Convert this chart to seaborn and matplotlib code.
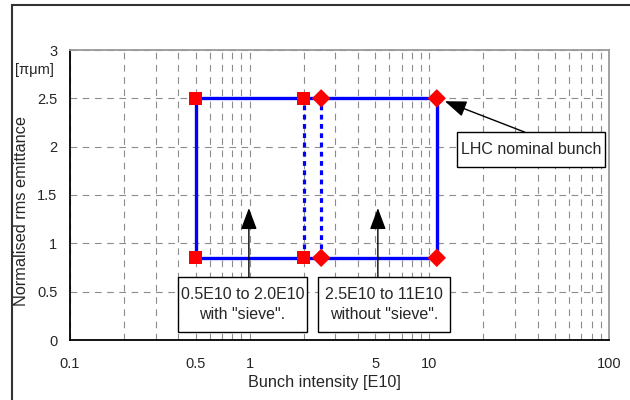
import matplotlib
matplotlib.use("Agg")
import matplotlib.pyplot as plt
import matplotlib.ticker as mticker
from matplotlib.patches import Rectangle
import seaborn as sns
import pandas as pd

# ---- data ----
sieve_x = [0.5, 2.0]          # with "sieve"
nosieve_x = [2.5, 11.0]       # without "sieve"
emit_low = 0.85
emit_high = 2.5
x_ticks = [0.1, 0.5, 1, 5, 10, 100]
x_tick_labels = ["0.1", "0.5", "1", "5", "10", "100"]
y_ticks = [0, 0.5, 1, 1.5, 2, 2.5, 3]
y_tick_labels = ["0", "0.5", "1", "1.5", "2", "2.5", "3"]
box1_text = '0.5E10 to 2.0E10\nwith "sieve".'
box2_text = '2.5E10 to 11E10\nwithout "sieve".'
lhc_text = "LHC nominal bunch"

sns.set_style("white")
plt.rcParams["font.family"] = ["Liberation Sans", "DejaVu Sans"]

W, H = 630, 400
fig = plt.figure(figsize=(6.3, 4.0), dpi=100)
ax = fig.add_axes([70/W, 1-340/H, (609-70)/W, (340-50)/H])

RED = "#ff0000"
BLUE = "#0000ff"

# outer rectangle (solid)
rect_x = [sieve_x[0], sieve_x[0], nosieve_x[1], nosieve_x[1], sieve_x[0]]
rect_y = [emit_low, emit_high, emit_high, emit_low, emit_low]
sns.lineplot(x=rect_x, y=rect_y, sort=False, estimator=None, color=BLUE,
             linewidth=2.4, ax=ax, zorder=3)
# dotted verticals
for xv in [sieve_x[1], nosieve_x[0]]:
    sns.lineplot(x=[xv, xv], y=[emit_low, emit_high], sort=False, estimator=None,
                 color=BLUE, linewidth=2.3, linestyle=(0, (1.5, 1.4)), ax=ax, zorder=3)

# markers
df = pd.DataFrame({
    "x": sieve_x * 2 + nosieve_x * 2,
    "y": [emit_high] * 2 + [emit_low] * 2 + [emit_high] * 2 + [emit_low] * 2,
    "group": ["sieve"] * 4 + ["nosieve"] * 4,
})
sns.scatterplot(data=df, x="x", y="y", style="group",
                markers={"sieve": "s", "nosieve": "D"}, color=RED,
                s=88, edgecolor="none", linewidth=0, legend=False, ax=ax, zorder=5)

ax.set_xscale("log")
ax.set_xlim(0.1, 100)
ax.set_ylim(0, 3)
ax.xaxis.set_major_locator(mticker.FixedLocator(x_ticks))
ax.xaxis.set_major_formatter(mticker.FixedFormatter(x_tick_labels))
ax.xaxis.set_minor_locator(mticker.LogLocator(base=10, subs=range(2, 10)))
ax.xaxis.set_minor_formatter(mticker.NullFormatter())
ax.yaxis.set_major_locator(mticker.FixedLocator(y_ticks))
ax.yaxis.set_major_formatter(mticker.FixedFormatter(y_tick_labels))

ax.grid(True, which="both", axis="x", color="#8c8c8c", linewidth=0.8,
        linestyle=(0, (6, 5)))
ax.grid(True, which="major", axis="y", color="#8c8c8c", linewidth=0.8,
        linestyle=(0, (6, 5)))
ax.set_axisbelow(True)

ax.tick_params(axis="both", which="both", length=0)
ax.tick_params(axis="x", pad=12, labelsize=10.5)
ax.tick_params(axis="y", pad=9, labelsize=10.5)

for s in ["left", "bottom"]:
    ax.spines[s].set_color("black")
    ax.spines[s].set_linewidth(1.3)
for s in ["top", "right"]:
    ax.spines[s].set_color("#9a9a9a")
    ax.spines[s].set_linewidth(1.3)

ax.set_xlabel("")
ax.set_ylabel("")
fig.text(324/W, 1-382/H, "Bunch intensity [E10]", ha="center", va="center",
         fontsize=11.7)
fig.text(22/W, 1-211/H, "Normalised rms emittance", ha="center", va="center",
         rotation=90, fontsize=11.7)
fig.text(34/W, 1-70/H, "[\u03c0\u03bcm]", ha="center", va="center", fontsize=10.5)

# annotation boxes (pixel layout)
boxes = [((178, 277, 307, 332), box1_text),
         ((318, 277, 450, 332), box2_text),
         ((457, 132, 605, 167), lhc_text)]
for (x0, y0, x1, y1), txt in boxes:
    ax.add_patch(Rectangle((x0/W, 1-y1/H), (x1-x0)/W, (y1-y0)/H,
                           transform=fig.transFigure, fc="white", ec="black",
                           lw=1, clip_on=False, zorder=6))
    ax.text((x0+x1)/2/W, 1-(y0+y1)/2/H, txt, transform=fig.transFigure,
            ha="center", va="center", fontsize=11.5, linespacing=1.35, zorder=7)

arrow = dict(arrowstyle="-|>,head_length=1.2,head_width=0.45", color="black",
             lw=1, shrinkA=0, shrinkB=0, mutation_scale=11)
ax.annotate("", xy=(0.99, 1.365), xytext=(0.99, 0.651), arrowprops=arrow, zorder=4)
ax.annotate("", xy=(5.17, 1.365), xytext=(5.17, 0.651), arrowprops=arrow, zorder=4)
ax.annotate("", xy=(12.2, 2.47), xytext=(34.0, 2.15), arrowprops=arrow, zorder=4)

fig.patches.append(Rectangle((12/W, -0.05), 1.2, (1-5/H)+0.05,
                             transform=fig.transFigure, fill=False,
                             ec="#333333", lw=1.5))

fig.savefig("out.png", dpi=100)
